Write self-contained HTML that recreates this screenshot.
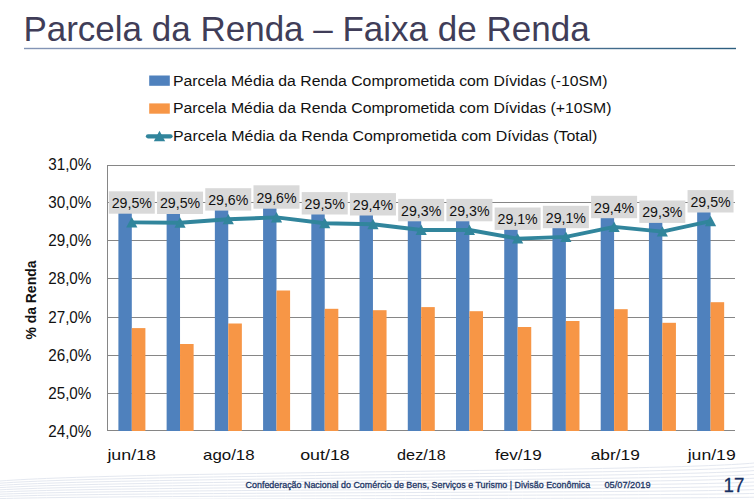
<!DOCTYPE html>
<html><head><meta charset="utf-8"><style>
html,body{margin:0;padding:0;background:#fff;}
body{width:754px;height:499px;overflow:hidden;position:relative;font-family:"Liberation Sans", sans-serif;}
svg{position:absolute;left:0;top:0;}
svg text{font-family:"Liberation Sans", sans-serif;}
</style></head><body>
<svg width="754" height="499" viewBox="0 0 754 499">
<defs>
<linearGradient id="ul" x1="0" x2="1" y1="0" y2="0"><stop offset="0" stop-color="#8495b6"/><stop offset="0.45" stop-color="#7389a9"/><stop offset="1" stop-color="#2c5e7f"/></linearGradient>
</defs>
<path d="M0,481.0 C130,471.0 660,472.0 754,463.0" fill="none" stroke="#e4e8f0" stroke-width="1"/>
<path d="M0,483.2 C130,474.0 660,475.0 754,466.8" fill="none" stroke="#e4e8f0" stroke-width="1"/>
<path d="M0,485.4 C130,477.0 660,478.0 754,470.6" fill="none" stroke="#e4e8f0" stroke-width="1"/>
<path d="M0,487.6 C130,480.0 660,481.0 754,474.4" fill="none" stroke="#e4e8f0" stroke-width="1"/>
<path d="M0,489.8 C130,483.0 660,484.0 754,478.2" fill="none" stroke="#e4e8f0" stroke-width="1"/>
<path d="M0,492.0 C130,486.0 660,487.0 754,482.0" fill="none" stroke="#e4e8f0" stroke-width="1"/>
<path d="M0,494.2 C130,489.0 660,490.0 754,485.8" fill="none" stroke="#e4e8f0" stroke-width="1"/>
<path d="M0,496.4 C130,492.0 660,493.0 754,489.6" fill="none" stroke="#e4e8f0" stroke-width="1"/>
<path d="M0,498.6 C130,495.0 660,496.0 754,493.4" fill="none" stroke="#e4e8f0" stroke-width="1"/>
<path d="M0,500.8 C130,498.0 660,499.0 754,497.2" fill="none" stroke="#e4e8f0" stroke-width="1"/>
<text x="23.4" y="40.6" font-size="35" fill="#403d58">Parcela da Renda – Faixa de Renda</text>
<rect x="24" y="47.8" width="712" height="1.4" fill="url(#ul)"/>
<line x1="107.5" y1="165.5" x2="735" y2="165.5" stroke="#868686" stroke-width="1"/>
<line x1="107.5" y1="202.5" x2="735" y2="202.5" stroke="#868686" stroke-width="1"/>
<line x1="107.5" y1="240.5" x2="735" y2="240.5" stroke="#868686" stroke-width="1"/>
<line x1="107.5" y1="278.5" x2="735" y2="278.5" stroke="#868686" stroke-width="1"/>
<line x1="107.5" y1="317.5" x2="735" y2="317.5" stroke="#868686" stroke-width="1"/>
<line x1="107.5" y1="355.5" x2="735" y2="355.5" stroke="#868686" stroke-width="1"/>
<line x1="107.5" y1="393.5" x2="735" y2="393.5" stroke="#868686" stroke-width="1"/>
<line x1="107.5" y1="430.5" x2="735" y2="430.5" stroke="#868686" stroke-width="1"/>
<line x1="107.5" y1="165" x2="107.5" y2="431" stroke="#868686" stroke-width="1"/>
<rect x="118.40" y="210.70" width="13.4" height="220.30" fill="#4f81bd"/>
<rect x="131.80" y="328.10" width="13.6" height="102.90" fill="#f79646"/>
<rect x="166.63" y="211.00" width="13.4" height="220.00" fill="#4f81bd"/>
<rect x="180.03" y="344.00" width="13.6" height="87.00" fill="#f79646"/>
<rect x="214.86" y="207.60" width="13.4" height="223.40" fill="#4f81bd"/>
<rect x="228.26" y="323.50" width="13.6" height="107.50" fill="#f79646"/>
<rect x="263.09" y="205.70" width="13.4" height="225.30" fill="#4f81bd"/>
<rect x="276.49" y="290.50" width="13.6" height="140.50" fill="#f79646"/>
<rect x="311.32" y="211.50" width="13.4" height="219.50" fill="#4f81bd"/>
<rect x="324.72" y="308.80" width="13.6" height="122.20" fill="#f79646"/>
<rect x="359.55" y="212.50" width="13.4" height="218.50" fill="#4f81bd"/>
<rect x="372.95" y="310.20" width="13.6" height="120.80" fill="#f79646"/>
<rect x="407.78" y="218.30" width="13.4" height="212.70" fill="#4f81bd"/>
<rect x="421.18" y="307.10" width="13.6" height="123.90" fill="#f79646"/>
<rect x="456.01" y="218.30" width="13.4" height="212.70" fill="#4f81bd"/>
<rect x="469.41" y="311.20" width="13.6" height="119.80" fill="#f79646"/>
<rect x="504.24" y="226.90" width="13.4" height="204.10" fill="#4f81bd"/>
<rect x="517.64" y="327.00" width="13.6" height="104.00" fill="#f79646"/>
<rect x="552.47" y="225.20" width="13.4" height="205.80" fill="#4f81bd"/>
<rect x="565.87" y="321.00" width="13.6" height="110.00" fill="#f79646"/>
<rect x="600.70" y="215.20" width="13.4" height="215.80" fill="#4f81bd"/>
<rect x="614.10" y="309.20" width="13.6" height="121.80" fill="#f79646"/>
<rect x="648.93" y="219.90" width="13.4" height="211.10" fill="#4f81bd"/>
<rect x="662.33" y="322.80" width="13.6" height="108.20" fill="#f79646"/>
<rect x="697.16" y="209.50" width="13.4" height="221.50" fill="#4f81bd"/>
<rect x="710.56" y="302.20" width="13.6" height="128.80" fill="#f79646"/>
<path d="M131.80,222.40 L180.03,222.70 L228.26,219.30 L276.49,217.40 L324.72,223.20 L372.95,224.20 L421.18,230.00 L469.41,230.00 L517.64,238.60 L565.87,236.90 L614.10,226.90 L662.33,231.60 L710.56,221.20" fill="none" stroke="#31859c" stroke-width="3.9" stroke-linejoin="round" stroke-linecap="round"/>
<path d="M131.80,217.00 L137.40,227.40 L126.20,227.40 Z" fill="#31859c"/>
<path d="M180.03,217.30 L185.63,227.70 L174.43,227.70 Z" fill="#31859c"/>
<path d="M228.26,213.90 L233.86,224.30 L222.66,224.30 Z" fill="#31859c"/>
<path d="M276.49,212.00 L282.09,222.40 L270.89,222.40 Z" fill="#31859c"/>
<path d="M324.72,217.80 L330.32,228.20 L319.12,228.20 Z" fill="#31859c"/>
<path d="M372.95,218.80 L378.55,229.20 L367.35,229.20 Z" fill="#31859c"/>
<path d="M421.18,224.60 L426.78,235.00 L415.58,235.00 Z" fill="#31859c"/>
<path d="M469.41,224.60 L475.01,235.00 L463.81,235.00 Z" fill="#31859c"/>
<path d="M517.64,233.20 L523.24,243.60 L512.04,243.60 Z" fill="#31859c"/>
<path d="M565.87,231.50 L571.47,241.90 L560.27,241.90 Z" fill="#31859c"/>
<path d="M614.10,221.50 L619.70,231.90 L608.50,231.90 Z" fill="#31859c"/>
<path d="M662.33,226.20 L667.93,236.60 L656.73,236.60 Z" fill="#31859c"/>
<path d="M710.56,215.80 L716.16,226.20 L704.96,226.20 Z" fill="#31859c"/>
<rect x="108.80" y="191.30" width="46.0" height="22.4" fill="#d9d9d9"/>
<text x="131.80" y="208.10" text-anchor="middle" font-size="14.2" fill="#111" textLength="40.2" lengthAdjust="spacingAndGlyphs">29,5%</text>
<rect x="157.03" y="191.60" width="46.0" height="22.4" fill="#d9d9d9"/>
<text x="180.03" y="208.40" text-anchor="middle" font-size="14.2" fill="#111" textLength="40.2" lengthAdjust="spacingAndGlyphs">29,5%</text>
<rect x="205.26" y="188.20" width="46.0" height="22.4" fill="#d9d9d9"/>
<text x="228.26" y="205.00" text-anchor="middle" font-size="14.2" fill="#111" textLength="40.2" lengthAdjust="spacingAndGlyphs">29,6%</text>
<rect x="253.49" y="185.30" width="46.0" height="23.4" fill="#d9d9d9"/>
<text x="276.49" y="203.10" text-anchor="middle" font-size="14.2" fill="#111" textLength="40.2" lengthAdjust="spacingAndGlyphs">29,6%</text>
<rect x="301.72" y="192.10" width="46.0" height="22.4" fill="#d9d9d9"/>
<text x="324.72" y="208.90" text-anchor="middle" font-size="14.2" fill="#111" textLength="40.2" lengthAdjust="spacingAndGlyphs">29,5%</text>
<rect x="349.95" y="193.10" width="46.0" height="22.4" fill="#d9d9d9"/>
<text x="372.95" y="209.90" text-anchor="middle" font-size="14.2" fill="#111" textLength="40.2" lengthAdjust="spacingAndGlyphs">29,4%</text>
<rect x="398.18" y="198.90" width="46.0" height="22.4" fill="#d9d9d9"/>
<text x="421.18" y="215.70" text-anchor="middle" font-size="14.2" fill="#111" textLength="40.2" lengthAdjust="spacingAndGlyphs">29,3%</text>
<rect x="446.41" y="198.90" width="46.0" height="22.4" fill="#d9d9d9"/>
<text x="469.41" y="215.70" text-anchor="middle" font-size="14.2" fill="#111" textLength="40.2" lengthAdjust="spacingAndGlyphs">29,3%</text>
<rect x="494.64" y="207.50" width="46.0" height="22.4" fill="#d9d9d9"/>
<text x="517.64" y="224.30" text-anchor="middle" font-size="14.2" fill="#111" textLength="40.2" lengthAdjust="spacingAndGlyphs">29,1%</text>
<rect x="542.87" y="205.80" width="46.0" height="22.4" fill="#d9d9d9"/>
<text x="565.87" y="222.60" text-anchor="middle" font-size="14.2" fill="#111" textLength="40.2" lengthAdjust="spacingAndGlyphs">29,1%</text>
<rect x="591.10" y="195.80" width="46.0" height="22.4" fill="#d9d9d9"/>
<text x="614.10" y="212.60" text-anchor="middle" font-size="14.2" fill="#111" textLength="40.2" lengthAdjust="spacingAndGlyphs">29,4%</text>
<rect x="639.33" y="200.50" width="46.0" height="22.4" fill="#d9d9d9"/>
<text x="662.33" y="217.30" text-anchor="middle" font-size="14.2" fill="#111" textLength="40.2" lengthAdjust="spacingAndGlyphs">29,3%</text>
<rect x="687.56" y="190.10" width="46.0" height="22.4" fill="#d9d9d9"/>
<text x="710.56" y="206.90" text-anchor="middle" font-size="14.2" fill="#111" textLength="40.2" lengthAdjust="spacingAndGlyphs">29,5%</text>
<text x="48.2" y="170.00" font-size="15.6" fill="#111" textLength="43.2" lengthAdjust="spacingAndGlyphs">31,0%</text>
<text x="48.2" y="208.15" font-size="15.6" fill="#111" textLength="43.2" lengthAdjust="spacingAndGlyphs">30,0%</text>
<text x="48.2" y="246.30" font-size="15.6" fill="#111" textLength="43.2" lengthAdjust="spacingAndGlyphs">29,0%</text>
<text x="48.2" y="284.45" font-size="15.6" fill="#111" textLength="43.2" lengthAdjust="spacingAndGlyphs">28,0%</text>
<text x="48.2" y="322.60" font-size="15.6" fill="#111" textLength="43.2" lengthAdjust="spacingAndGlyphs">27,0%</text>
<text x="48.2" y="360.75" font-size="15.6" fill="#111" textLength="43.2" lengthAdjust="spacingAndGlyphs">26,0%</text>
<text x="48.2" y="398.90" font-size="15.6" fill="#111" textLength="43.2" lengthAdjust="spacingAndGlyphs">25,0%</text>
<text x="48.2" y="437.05" font-size="15.6" fill="#111" textLength="43.2" lengthAdjust="spacingAndGlyphs">24,0%</text>
<text x="107.4" y="459.8" font-size="15" fill="#111" textLength="48.6" lengthAdjust="spacingAndGlyphs">jun/18</text>
<text x="203.0" y="459.8" font-size="15" fill="#111" textLength="51.6" lengthAdjust="spacingAndGlyphs">ago/18</text>
<text x="300.2" y="459.8" font-size="15" fill="#111" textLength="49.6" lengthAdjust="spacingAndGlyphs">out/18</text>
<text x="397.1" y="459.8" font-size="15" fill="#111" textLength="48.7" lengthAdjust="spacingAndGlyphs">dez/18</text>
<text x="495.0" y="459.8" font-size="15" fill="#111" textLength="46.7" lengthAdjust="spacingAndGlyphs">fev/19</text>
<text x="590.7" y="459.8" font-size="15" fill="#111" textLength="49.2" lengthAdjust="spacingAndGlyphs">abr/19</text>
<text x="687.7" y="459.8" font-size="15" fill="#111" textLength="48.0" lengthAdjust="spacingAndGlyphs">jun/19</text>
<text transform="translate(35.8,300) rotate(-90)" x="-39.6" font-size="14.6" font-weight="bold" fill="#111" textLength="79" lengthAdjust="spacingAndGlyphs">% da Renda</text>
<rect x="149.2" y="75.5" width="20.6" height="10.3" fill="#4f81bd"/>
<rect x="149.2" y="103.4" width="20.6" height="10.3" fill="#f79646"/>
<line x1="148" y1="136.3" x2="170.5" y2="136.3" stroke="#31859c" stroke-width="4.3" stroke-linecap="round"/>
<path d="M159.5,130.8 L165.2,141.2 L153.8,141.2 Z" fill="#31859c"/>
<text x="173.0" y="85.9" font-size="14.9" fill="#111" textLength="434.5" lengthAdjust="spacingAndGlyphs">Parcela Média da Renda Comprometida com Dívidas (-10SM)</text>
<text x="173.0" y="112.9" font-size="14.9" fill="#111" textLength="438.5" lengthAdjust="spacingAndGlyphs">Parcela Média da Renda Comprometida com Dívidas (+10SM)</text>
<text x="173.0" y="140.6" font-size="14.9" fill="#111" textLength="424.4" lengthAdjust="spacingAndGlyphs">Parcela Média da Renda Comprometida com Dívidas (Total)</text>
<text x="245.6" y="487.8" font-size="9.6" fill="#1c3565" stroke="#1c3565" stroke-width="0.3" textLength="344.6" lengthAdjust="spacingAndGlyphs">Confederação Nacional do Comércio de Bens, Serviços e Turismo | Divisão Econômica</text>
<text x="604.5" y="487.8" font-size="9.6" fill="#1c3565" stroke="#1c3565" stroke-width="0.3" textLength="46" lengthAdjust="spacingAndGlyphs">05/07/2019</text>
<text x="723.6" y="492" font-size="20.5" fill="#172f62" stroke="#172f62" stroke-width="0.3" textLength="20.8" lengthAdjust="spacingAndGlyphs">17</text>
</svg>
</body></html>
